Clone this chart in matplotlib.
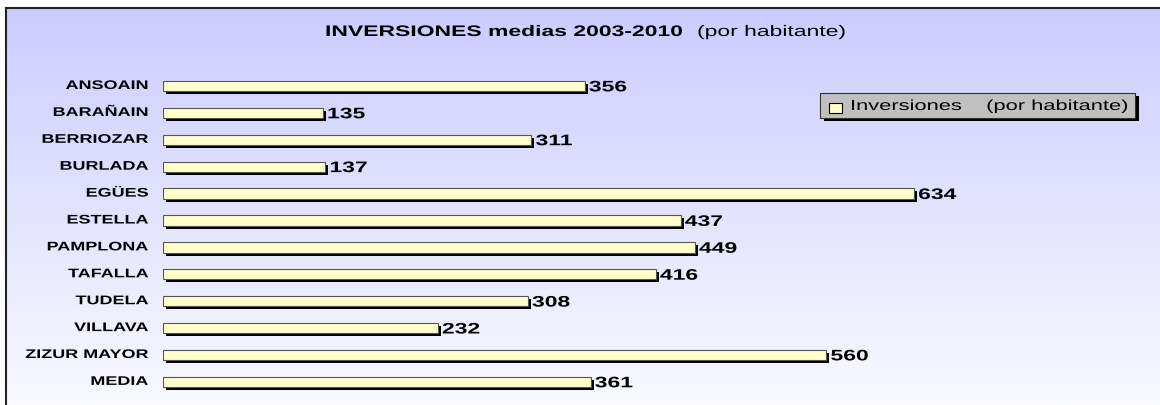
import numpy as np
import matplotlib
matplotlib.use("Agg")
import matplotlib.pyplot as plt
from matplotlib.transforms import ScaledTranslation, Affine2D
from matplotlib.patches import Rectangle
from matplotlib.patheffects import AbstractPathEffect

categories = ["ANSOAIN", "BARAÑAIN", "BERRIOZAR", "BURLADA", "EGÜES", "ESTELLA",
              "PAMPLONA", "TAFALLA", "TUDELA", "VILLAVA", "ZIZUR MAYOR", "MEDIA"]
values = [356, 135, 311, 137, 634, 437, 449, 416, 308, 232, 560, 361]
title_bold = "INVERSIONES medias 2003-2010"
title_normal = "(por habitante)"
legend_label = "Inversiones    (por habitante)"

plt.rcParams['font.family'] = ['Liberation Sans', 'DejaVu Sans']


class StretchX(AbstractPathEffect):
    """Widen text glyphs horizontally (the reference uses a stretched font)."""

    def __init__(self, sx=1.5, anchor="left"):
        super().__init__()
        self.sx = sx
        self.anchor = anchor

    def draw_path(self, renderer, gc, tpath, affine, rgbFace=None):
        xs = tpath.vertices[:, 0] if len(tpath.vertices) else np.array([0.0])
        x_a = 0.0 if self.anchor == "left" else float(xs.max())
        pre = Affine2D().translate(-x_a, 0).scale(self.sx, 1).translate(x_a, 0)
        renderer.draw_path(gc, tpath, pre + affine, rgbFace)


SX = 1.5
W, H = 1160, 405
fig = plt.figure(figsize=(W / 100, H / 100), dpi=100)
fig.patch.set_facecolor("white")

# background gradient panel
bg = fig.add_axes([6 / W, 0, 1 - 6 / W, 1 - 8 / H])
grad = np.linspace(0, 1, 256).reshape(-1, 1)
top = np.array([0xCC, 0xCC, 0xFF]) / 255
bot = np.array([0xF9, 0xF9, 0xFF]) / 255
img = top[None, None, :] * (1 - grad[:, :, None]) + bot[None, None, :] * grad[:, :, None]
bg.imshow(img, aspect="auto", extent=[0, 1, 0, 1], origin="upper")
bg.set_xlim(0, 1)
bg.set_ylim(0, 1)
bg.set_xticks([])
bg.set_yticks([])
for s in ["right", "bottom"]:
    bg.spines[s].set_visible(False)
for s in ["left", "top"]:
    bg.spines[s].set_linewidth(1.5)
    bg.spines[s].set_color("#222222")

# main axes: data 0 at px 163, 1.1845 px per unit
x0 = 163
ppu = 1.1845
xmax = 800
yc0, dy = 86.0, 26.9
ytop = yc0 - 0.5 * dy
ybot = yc0 + 11.5 * dy
ax = fig.add_axes([x0 / W, 1 - ybot / H, xmax * ppu / W, (ybot - ytop) / H])
ax.set_xlim(0, xmax)
ax.set_ylim(len(categories) - 0.5, -0.5)
ax.patch.set_alpha(0)
ax.axis("off")

ypos = np.arange(len(categories))
bh = 0.38
shadow_tr = ax.transData + ScaledTranslation(3 / 100, -3 / 100, fig.dpi_scale_trans)
ax.barh(ypos, values, height=bh, color="black", transform=shadow_tr, zorder=2)
ax.barh(ypos, values, height=bh, color="#FFFFCC", edgecolor="#555555", linewidth=0.8, zorder=3)

for y, v, c in zip(ypos, values, categories):
    ax.annotate(str(v), xy=(v, y), xytext=(3, -1), textcoords="offset points",
                ha="left", va="center", fontsize=11, fontweight="bold", zorder=4,
                path_effects=[StretchX(SX, "left")])
    ax.annotate(c, xy=(0, y), xytext=(-10.5, 0), textcoords="offset points",
                ha="right", va="center", fontsize=9, fontweight="bold", zorder=4,
                path_effects=[StretchX(1.44, "right")])

# title
fig.text(325 / W, 1 - 32 / H, title_bold, ha="left", va="center",
         fontsize=11, fontweight="bold", path_effects=[StretchX(SX, "left")])
fig.text(697 / W, 1 - 32 / H, title_normal, ha="left", va="center", fontsize=11,
         path_effects=[StretchX(SX, "left")])

# legend box
lx0, ly0, lx1, ly1 = 820, 93, 1135, 118
fig.patches.append(Rectangle(((lx0 + 4) / W, 1 - (ly1 + 3) / H), (lx1 - lx0) / W, (ly1 - ly0) / H,
                             transform=fig.transFigure, facecolor="black", edgecolor="none", zorder=5))
fig.patches.append(Rectangle((lx0 / W, 1 - ly1 / H), (lx1 - lx0) / W, (ly1 - ly0) / H,
                             transform=fig.transFigure, facecolor="#C0C0C0", edgecolor="#333333",
                             linewidth=0.8, zorder=6))
fig.patches.append(Rectangle((829 / W, 1 - 113 / H), 13 / W, 10 / H,
                             transform=fig.transFigure, facecolor="#FFFFCC", edgecolor="black",
                             linewidth=0.8, zorder=7))
fig.text(850 / W, 1 - 106 / H, legend_label, ha="left", va="center", fontsize=10.5, zorder=8,
         path_effects=[StretchX(SX, "left")])

fig.savefig("out.png", dpi=100)
